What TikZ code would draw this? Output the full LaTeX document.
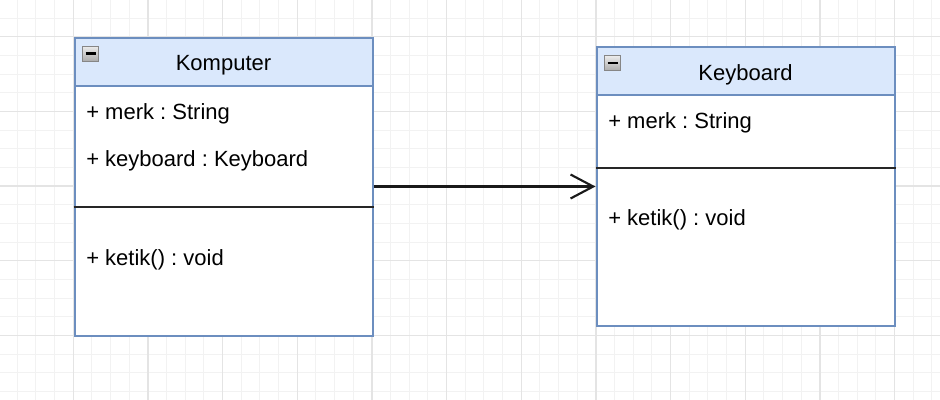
\documentclass[tikz,border=0pt]{standalone}
\usepackage{fontspec}
\setmainfont{Liberation Sans}
\usetikzlibrary{calc,arrows.meta,positioning}

\definecolor{headfill}{HTML}{DAE8FC}
\definecolor{headdraw}{HTML}{6C8EBF}
\definecolor{gridminor}{HTML}{F2F2F2}
\definecolor{gridmajor}{HTML}{E4E4E4}
\def\px{0.75pt}

\tikzset{
  minorgrid/.style={gridminor, line width=0.75pt},
  majorgrid/.style={gridmajor, line width=1pt},
  classbox/.style={draw=headdraw, fill=white, line width=1.5pt, inner sep=0pt,
    minimum width=298*\px},
  classhead/.style={draw=headdraw, fill=headfill, line width=1.5pt, inner sep=0pt,
    minimum width=298*\px, minimum height=48*\px, anchor=north,
    text height=14.1pt, text depth=0pt, font=\fontsize{16.5}{20}\selectfont},
  member/.style={anchor=west, inner sep=0pt, text height=11.85pt, text depth=0pt,
    font=\fontsize{16.5}{20}\selectfont},
  divider/.style={black!85, line width=1.5pt},
  minusbox/.style={draw=gray!95, line width=0.7pt, top color=gray!15,
    bottom color=gray!65, minimum width=16*\px, minimum height=15*\px, inner sep=0pt},
  assoc/.style={black!90, line width=1.6pt, -{Straight Barb[length=17pt, width=18pt, line width=1.6pt]}}
}

\begin{document}
\frenchspacing
\begin{tikzpicture}[x=\px, y=-\px]
    \useasboundingbox (0,0) rectangle (940,400);
    \fill[white] (0,0) rectangle (940,400);
    % grid
    \foreach \i in {0,...,49} \draw[minorgrid] (17.3+\i*18.667,0) -- ++(0,400);
    \foreach \j in {1,...,21} \draw[minorgrid] (0,-0.63+\j*18.667) -- ++(940,0);
    \foreach \i in {0,...,11} \draw[majorgrid] (73.3+\i*74.667,0) -- ++(0,400);
    \foreach \j in {0,...,4} \draw[majorgrid] (0,36.7+\j*74.667) -- ++(940,0);

    % Komputer
    \node[classbox, minimum height=298*\px] (komputer) at (223.5,186.5) {};
    \node[classhead] (komputerhead) at (komputer.north) {Komputer};
    \node[minusbox] (komputermin) at ($(komputerhead.north west)+(17,17)$) {};
    \draw[line width=1.6pt, black] ($(komputermin.center)+(-5,0)$) -- ++(10,0);
    \node[member] (kmerk) at (86,112) {+ merk : String};
    \node[member] (kkeyboard) at (86,159) {+ keyboard : Keyboard};
    \draw[divider] (komputer.west |- 0,207) -- (komputer.east |- 0,207);
    \node[member] (kketik) at (86,258) {+ ketik() : void};

    % Keyboard
    \node[classbox, minimum height=279*\px] (keyboard) at (745.5,186.5) {};
    \node[classhead] (keyboardhead) at (keyboard.north) {Keyboard};
    \node[minusbox] (keyboardmin) at ($(keyboardhead.north west)+(17,17)$) {};
    \draw[line width=1.6pt, black] ($(keyboardmin.center)+(-5,0)$) -- ++(10,0);
    \node[member] (bmerk) at (608,121) {+ merk : String};
    \draw[divider] (keyboard.west |- 0,168) -- (keyboard.east |- 0,168);
    \node[member] (bketik) at (608,218) {+ ketik() : void};

    %\draw[assoc] (kkeyboard) -- (keyboard);
    \draw[assoc] (komputer) -- (keyboard);
\end{tikzpicture}
\end{document}
